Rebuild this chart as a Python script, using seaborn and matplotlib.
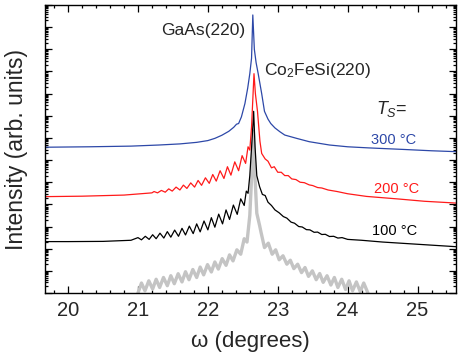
import numpy as np
import pandas as pd
import matplotlib
matplotlib.use("Agg")
import matplotlib.pyplot as plt
import seaborn as sns
from matplotlib.ticker import LogLocator, NullFormatter, MultipleLocator

# ---- data (omega in degrees, log10 of intensity in arb. units) ----
sim_omega = [21.00, 21.05, 21.10, 21.155, 21.21, 21.26, 21.31, 21.365, 21.42, 21.47, 21.52,
             21.575, 21.63, 21.68, 21.73, 21.785, 21.84, 21.89, 21.94, 21.995, 22.05,
             22.10, 22.15, 22.205, 22.26, 22.31, 22.36, 22.415, 22.47, 22.52, 22.56,
             22.60, 22.63, 22.65, 22.67, 22.70, 22.74, 22.76, 22.81, 22.865, 22.92,
             22.97, 23.02, 23.075, 23.13, 23.18, 23.23, 23.285, 23.34, 23.39, 23.44,
             23.495, 23.55, 23.60, 23.65, 23.705, 23.76, 23.81, 23.86, 23.915, 23.97,
             24.02, 24.07, 24.125, 24.18, 24.23, 24.29]
sim_logI = [0.00, 0.45, 0.10, 0.55, 0.18, 0.62, 0.25, 0.70, 0.33, 0.78, 0.42,
            0.87, 0.50, 0.96, 0.60, 1.06, 0.70, 1.17, 0.82, 1.28, 0.95,
            1.40, 1.08, 1.55, 1.25, 1.72, 1.45, 1.95, 1.75, 2.45, 2.30,
            3.50, 5.50, 7.30, 5.50, 3.60, 3.05, 2.75, 2.05, 2.25, 1.75,
            1.95, 1.50, 1.68, 1.30, 1.48, 1.10, 1.30, 0.92, 1.15, 0.75,
            1.00, 0.60, 0.88, 0.48, 0.78, 0.36, 0.70, 0.25, 0.62, 0.16,
            0.55, 0.10, 0.50, 0.06, 0.45, 0.00]

t100_omega = [19.67, 20.00, 20.50, 20.90, 21.00, 21.05, 21.105, 21.16, 21.21, 21.26, 21.315,
              21.37, 21.42, 21.47, 21.525, 21.58, 21.63, 21.68, 21.735, 21.79, 21.84,
              21.89, 21.945, 22.00, 22.05, 22.10, 22.155, 22.21, 22.26, 22.31, 22.365,
              22.42, 22.47, 22.52, 22.55, 22.575, 22.60, 22.63, 22.655, 22.675, 22.70,
              22.74, 22.78, 22.82, 22.86, 22.91, 22.96, 23.02, 23.08, 23.13, 23.19,
              23.24, 23.30, 23.35, 23.41, 23.46, 23.52, 23.57, 23.63, 23.68, 23.74,
              23.80, 23.86, 23.92, 24.00, 24.20, 24.50, 25.00, 25.55]
t100_logI = [2.32, 2.32, 2.33, 2.38, 2.50, 2.40, 2.56, 2.42, 2.63, 2.45, 2.70,
             2.48, 2.77, 2.52, 2.84, 2.56, 2.92, 2.62, 3.02, 2.68, 3.12,
             2.76, 3.25, 2.85, 3.40, 2.97, 3.56, 3.12, 3.75, 3.32, 3.97,
             3.55, 4.25, 3.95, 4.60, 4.50, 5.30, 6.80, 8.20, 6.60, 5.30,
             4.80, 4.45, 4.40, 4.10, 3.95, 3.75, 3.62, 3.45, 3.38, 3.20,
             3.15, 3.00, 2.98, 2.86, 2.85, 2.74, 2.75, 2.64, 2.65, 2.55,
             2.56, 2.48, 2.50, 2.42, 2.38, 2.30, 2.20, 2.09]

t200_omega = [19.67, 20.20, 20.80, 21.20, 21.23, 21.28, 21.335, 21.39, 21.44, 21.49, 21.545,
              21.60, 21.65, 21.70, 21.755, 21.81, 21.86, 21.91, 21.965, 22.02, 22.07,
              22.12, 22.175, 22.23, 22.28, 22.33, 22.385, 22.44, 22.49, 22.54, 22.575,
              22.60, 22.625, 22.66, 22.68, 22.71, 22.745, 22.77, 22.82, 22.86, 22.91,
              22.95, 23.00, 23.05, 23.10, 23.15, 23.20, 23.26, 23.32, 23.38, 23.45,
              23.50, 23.57, 23.63, 23.72, 23.85, 24.00, 24.27, 24.74, 25.10, 25.55]
t200_logI = [4.35, 4.37, 4.42, 4.52, 4.58, 4.52, 4.63, 4.55, 4.70, 4.60, 4.78,
             4.65, 4.87, 4.72, 4.97, 4.78, 5.08, 4.86, 5.20, 4.95, 5.35,
             5.05, 5.52, 5.17, 5.70, 5.32, 5.92, 5.52, 6.20, 5.85, 6.60,
             6.45, 7.50, 9.90, 9.00, 8.20, 6.85, 6.30, 6.05, 5.95, 5.65,
             5.70, 5.45, 5.45, 5.30, 5.30, 5.15, 5.12, 5.00, 4.98, 4.88,
             4.85, 4.76, 4.74, 4.65, 4.58, 4.48, 4.36, 4.24, 4.14, 4.06]

t300_omega = [19.67, 20.30, 20.90, 21.30, 21.60, 21.84, 22.00, 22.10, 22.20, 22.30, 22.37,
              22.41, 22.44, 22.48, 22.53, 22.57, 22.60, 22.625, 22.643, 22.665, 22.69,
              22.72, 22.77, 22.81, 22.86, 22.90, 22.96, 23.03, 23.10, 23.27, 23.45,
              23.74, 24.00, 24.30, 24.80, 25.20, 25.55]
t300_logI = [6.58, 6.60, 6.63, 6.68, 6.73, 6.80, 6.88, 6.98, 7.12, 7.30, 7.48,
             7.62, 7.65, 7.95, 8.55, 9.25, 9.90, 10.60, 12.55, 11.00, 10.40,
             9.90, 9.00, 8.20, 7.85, 7.65, 7.45, 7.28, 7.13, 6.98, 6.83,
             6.68, 6.60, 6.55, 6.48, 6.42, 6.38]

temp_labels = ["300 °C", "200 °C", "100 °C"]

# ---- style ----
sns.set_style("ticks")
plt.rcParams["font.family"] = ["Liberation Sans", "DejaVu Sans"]
plt.rcParams["mathtext.fontset"] = "custom"
plt.rcParams["mathtext.rm"] = "Liberation Sans"
plt.rcParams["mathtext.it"] = "Liberation Sans:italic"

fig = plt.figure(figsize=(4.58, 3.57), dpi=100)
ax = fig.add_axes([45 / 458, 1 - 293 / 357, (456 - 45) / 458, (293 - 5) / 357])

blue = "#2d48a8"
red = "#ff1a1a"
gray = "#c4c4c4"

def draw(xs, ly, color, lw):
    df = pd.DataFrame({"omega": xs, "I": np.power(10.0, ly)})
    sns.lineplot(data=df, x="omega", y="I", ax=ax, color=color, lw=lw,
                 estimator=None, sort=False, solid_joinstyle="round",
                 solid_capstyle="round")

draw(sim_omega, sim_logI, gray, 2.4)
draw(t100_omega, t100_logI, "black", 0.9)
draw(t200_omega, t200_logI, red, 0.9)
draw(t300_omega, t300_logI, blue, 0.9)

ax.set_yscale("log")
ax.set_xlim(19.67, 25.55)
ax.set_ylim(1, 1e13)
ax.xaxis.set_major_locator(MultipleLocator(1))
ax.xaxis.set_minor_locator(MultipleLocator(0.2))
ax.yaxis.set_major_locator(LogLocator(base=10, numticks=100))
ax.yaxis.set_minor_locator(LogLocator(base=10, subs=np.arange(2, 10), numticks=100))
ax.yaxis.set_major_formatter(NullFormatter())
ax.yaxis.set_minor_formatter(NullFormatter())

ax.tick_params(which="both", direction="in", top=True, right=True, color="black", width=0.9)
ax.tick_params(which="major", length=5, labelsize=14.5, pad=6)
ax.tick_params(which="minor", length=2.5)
for s in ax.spines.values():
    s.set_linewidth(1.0)
    s.set_color("black")
    s.set_visible(True)

ax.set_xlabel("ω (degrees)", fontsize=16, labelpad=8)
ax.set_ylabel("Intensity (arb. units)", fontsize=16.5, labelpad=6)

ax.text(21.94, 10 ** 11.87, "GaAs(220)", fontsize=12.5, ha="center", va="center")
ax.text(22.81, 10 ** 10.05, "Co$_{2}$FeSi(220)", fontsize=12.5, ha="left", va="center")
ax.text(24.41, 10 ** 8.3, "$T_{S}$=", fontsize=13, ha="left", va="center")
ax.text(24.66, 10 ** 6.9, temp_labels[0], fontsize=10.5, color=blue, ha="center", va="center")
ax.text(24.70, 10 ** 4.7, temp_labels[1], fontsize=10.5, color=red, ha="center", va="center")
ax.text(24.67, 10 ** 2.8, temp_labels[2], fontsize=10.5, color="black", ha="center", va="center")

fig.savefig("out.png", dpi=100)
